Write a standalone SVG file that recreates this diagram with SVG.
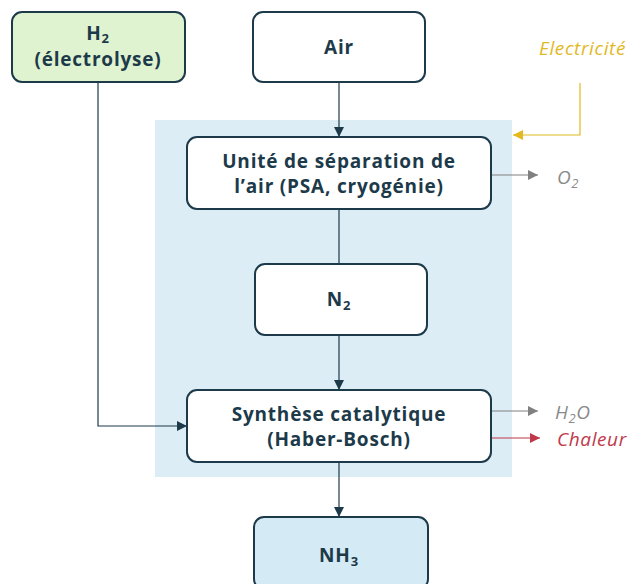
<svg xmlns="http://www.w3.org/2000/svg" width="628" height="584" viewBox="0 0 628 584">
<style>
.box{stroke:#1c3a4a;stroke-width:2}
.t{font-family:"Open Sans","Noto Sans",sans-serif;font-weight:bold;font-size:19px;letter-spacing:0.8px;fill:#1c3a4a;text-anchor:middle}
.side{font-family:"Open Sans","Noto Sans",sans-serif;font-style:italic;font-size:19px;letter-spacing:0.6px}
.c{fill:none;stroke:#1c3a4a;stroke-width:1.2}
</style>
<defs>
<marker id="ad" viewBox="0 0 10 10" refX="10" refY="5" markerWidth="10" markerHeight="10" markerUnits="userSpaceOnUse" orient="auto"><path d="M0,0L10,5L0,10z" fill="#1c3a4a"/></marker>
<marker id="ag" viewBox="0 0 10 10" refX="10" refY="5" markerWidth="10" markerHeight="10" markerUnits="userSpaceOnUse" orient="auto"><path d="M0,0L10,5L0,10z" fill="#808080"/></marker>
<marker id="ar" viewBox="0 0 10 10" refX="10" refY="5" markerWidth="10" markerHeight="10" markerUnits="userSpaceOnUse" orient="auto"><path d="M0,0L10,5L0,10z" fill="#c0394b"/></marker>
<marker id="ay" viewBox="0 0 10 10" refX="10" refY="5" markerWidth="10" markerHeight="10" markerUnits="userSpaceOnUse" orient="auto"><path d="M0,0L10,5L0,10z" fill="#e2b91e"/></marker>
</defs>
<rect x="155" y="120" width="357" height="357" fill="#dcedf5"/>
<g id="connectors">
<path class="c" d="M339,82V137" marker-end="url(#ad)"/>
<path class="c" d="M339,209V264"/>
<path class="c" d="M339,335V390" marker-end="url(#ad)"/>
<path class="c" d="M339,462V517" marker-end="url(#ad)"/>
<path class="c" d="M98,82V426H187" marker-end="url(#ad)"/>
<path d="M580,83V135H513" fill="none" stroke="#e2b91e" stroke-width="1.2" marker-end="url(#ay)"/>
<path d="M491,175H538" fill="none" stroke="#808080" stroke-width="1.2" marker-end="url(#ag)"/>
<path d="M491,411H538" fill="none" stroke="#808080" stroke-width="1.2" marker-end="url(#ag)"/>
<path d="M491,438H540" fill="none" stroke="#c0394b" stroke-width="1.2" marker-end="url(#ar)"/>
</g>
<g id="h2">
<rect class="box" x="12" y="12" width="173" height="70" rx="10" fill="#e0f3d0"/>
<text class="t" x="98" y="40">H<tspan font-size="13" dy="3">2</tspan></text>
<text class="t" x="98" y="66">(électrolyse)</text>
</g>
<g id="air">
<rect class="box" x="253" y="12" width="172" height="70" rx="10" fill="#fff"/>
<text class="t" x="339" y="54">Air</text>
</g>
<g id="asu">
<rect class="box" x="187" y="137" width="304" height="72" rx="10" fill="#fff"/>
<text class="t" x="339" y="168">Unité de séparation de</text>
<text class="t" x="339" y="193">l’air (PSA, cryogénie)</text>
</g>
<g id="n2">
<rect class="box" x="255" y="264" width="172" height="71" rx="10" fill="#fff"/>
<text class="t" x="339" y="306">N<tspan font-size="13" dy="4">2</tspan></text>
</g>
<g id="synth">
<rect class="box" x="187" y="390" width="304" height="72" rx="10" fill="#fff"/>
<text class="t" x="339" y="421">Synthèse catalytique</text>
<text class="t" x="339" y="446">(Haber-Bosch)</text>
</g>
<g id="nh3">
<rect class="box" x="254" y="517" width="174" height="72" rx="10" fill="#d4eaf4"/>
<text class="t" x="339" y="562">NH<tspan font-size="13" dy="4">3</tspan></text>
</g>
<g id="electricite">
<text class="side" x="626" y="55" fill="#e2b91e" text-anchor="end">Electricité</text>
</g>
<g id="o2">
<text class="side" x="557" y="184" fill="#8a8a8a">O<tspan font-size="13" dy="4">2</tspan></text>
</g>
<g id="h2o">
<text class="side" x="555" y="419" fill="#8a8a8a">H<tspan font-size="13" dy="4">2</tspan><tspan dy="-4">O</tspan></text>
</g>
<g id="chaleur">
<text class="side" x="557" y="446" fill="#c0394b">Chaleur</text>
</g>
</svg>
